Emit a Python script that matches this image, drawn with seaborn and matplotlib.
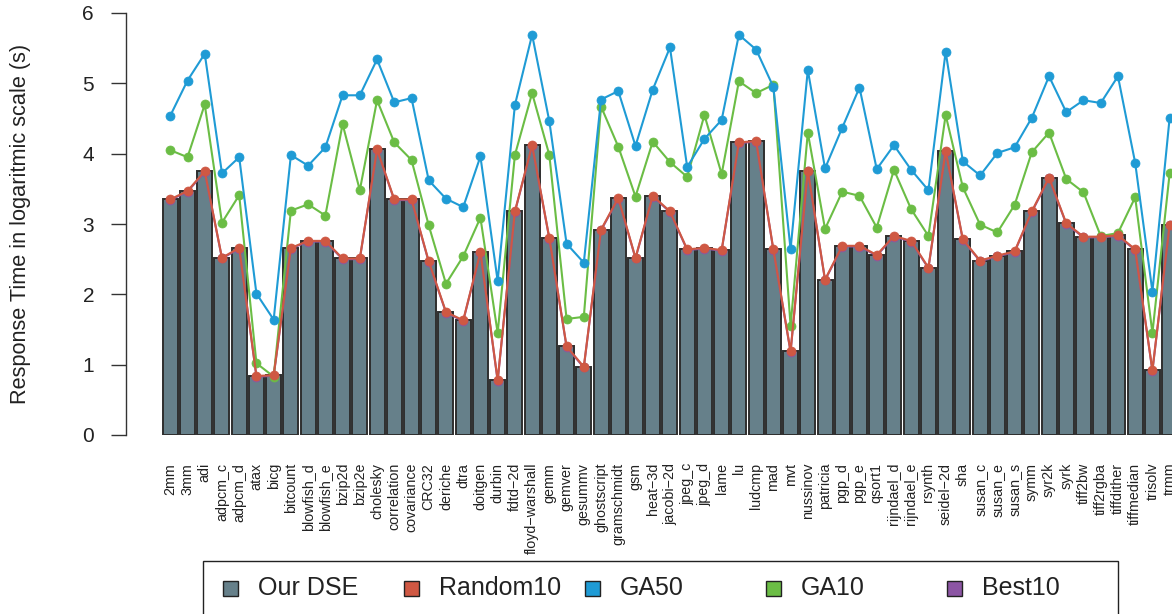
import numpy as np
import pandas as pd
import matplotlib
matplotlib.use("Agg")
import matplotlib.pyplot as plt
import seaborn as sns
from matplotlib.patches import Rectangle

# Benchmarks (x axis)
benchmarks = [
    "2mm", "3mm", "adi", "adpcm_c", "adpcm_d", "atax", "bicg", "bitcount",
    "blowfish_d", "blowfish_e", "bzip2d", "bzip2e", "cholesky", "correlation",
    "covariance", "CRC32", "deriche", "dtra", "doitgen", "durbin", "fdtd\u22122d",
    "floyd\u2212warshall", "gemm", "gemver", "gesummv", "ghostscript",
    "gramschmidt", "gsm", "heat\u22123d", "jacobi\u22122d", "jpeg_c", "jpeg_d",
    "lame", "lu", "ludcmp", "mad", "mvt", "nussinov", "patricia", "pgp_d",
    "pgp_e", "qsort1", "rijndael_d", "rijndael_e", "rsynth", "seidel\u22122d",
    "sha", "susan_c", "susan_e", "susan_s", "symm", "syr2k", "syrk", "tiff2bw",
    "tiff2rgba", "tiffdither", "tiffmedian", "trisolv", "trmm",
]

# Response time, log scale (s)
our_dse = [
    3.35, 3.47, 3.75, 2.52, 2.66, 0.84, 0.85, 2.66, 2.76, 2.76,
    2.51, 2.51, 4.06, 3.35, 3.35, 2.47, 1.75, 1.63, 2.60, 0.78,
    3.18, 4.12, 2.80, 1.26, 0.97, 2.92, 3.37, 2.52, 3.40, 3.18,
    2.64, 2.66, 2.63, 4.16, 4.18, 2.64, 1.19, 3.76, 2.21, 2.69,
    2.69, 2.56, 2.83, 2.76, 2.38, 4.04, 2.78, 2.48, 2.55, 2.61,
    3.18, 3.66, 3.01, 2.82, 2.82, 2.84, 2.64, 0.92, 2.99,
]
random10 = [
    3.35, 3.47, 3.75, 2.52, 2.66, 0.84, 0.85, 2.66, 2.76, 2.76,
    2.51, 2.51, 4.06, 3.35, 3.35, 2.47, 1.75, 1.63, 2.60, 0.78,
    3.18, 4.12, 2.80, 1.26, 0.97, 2.92, 3.37, 2.52, 3.40, 3.18,
    2.64, 2.66, 2.63, 4.16, 4.18, 2.64, 1.19, 3.76, 2.21, 2.69,
    2.69, 2.56, 2.83, 2.76, 2.38, 4.04, 2.78, 2.48, 2.55, 2.61,
    3.18, 3.66, 3.01, 2.82, 2.82, 2.84, 2.64, 0.92, 2.99,
]
ga50 = [
    4.54, 5.04, 5.42, 3.72, 3.95, 2.01, 1.64, 3.98, 3.83, 4.09,
    4.83, 4.83, 5.34, 4.73, 4.79, 3.62, 3.36, 3.24, 3.96, 2.19,
    4.69, 5.69, 4.46, 2.72, 2.45, 4.77, 4.89, 4.11, 4.91, 5.51,
    3.81, 4.21, 4.48, 5.69, 5.48, 4.95, 2.64, 5.19, 3.79, 4.37,
    4.94, 3.78, 4.12, 3.77, 3.48, 5.45, 3.89, 3.69, 4.01, 4.09,
    4.51, 5.10, 4.59, 4.76, 4.72, 5.10, 3.87, 2.04, 4.51,
]
ga10 = [
    4.05, 3.95, 4.70, 3.02, 3.41, 1.02, 0.83, 3.19, 3.28, 3.12,
    4.42, 3.48, 4.76, 4.16, 3.91, 2.98, 2.15, 2.54, 3.09, 1.45,
    3.98, 4.86, 3.98, 1.65, 1.68, 4.67, 4.10, 3.39, 4.17, 3.88,
    3.67, 4.55, 3.71, 5.03, 4.86, 4.98, 1.55, 4.30, 2.93, 3.46,
    3.40, 2.95, 3.77, 3.21, 2.83, 4.55, 3.52, 2.99, 2.88, 3.27,
    4.02, 4.30, 3.64, 3.45, 2.83, 2.87, 3.38, 1.45, 3.72,
]
best10 = [
    3.34, 3.46, 3.74, 2.51, 2.65, 0.83, 0.84, 2.65, 2.75, 2.75,
    2.50, 2.50, 4.05, 3.34, 3.34, 2.46, 1.74, 1.62, 2.59, 0.77,
    3.17, 4.11, 2.79, 1.25, 0.96, 2.91, 3.36, 2.51, 3.39, 3.17,
    2.63, 2.65, 2.62, 4.15, 4.17, 2.63, 1.18, 3.75, 2.20, 2.68,
    2.68, 2.55, 2.82, 2.75, 2.37, 4.03, 2.77, 2.47, 2.54, 2.60,
    3.17, 3.65, 3.00, 2.81, 2.81, 2.83, 2.63, 0.91, 2.98,
]

series_names = ["Our DSE", "Random10", "GA50", "GA10", "Best10"]
colors = {
    "Our DSE": "#66808a",
    "Random10": "#cf5843",
    "GA50": "#1f9bd5",
    "GA10": "#6bbd45",
    "Best10": "#8c55a4",
}

sns.set_style("white")
plt.rcParams["font.family"] = ["Liberation Sans", "DejaVu Sans"]

W, H = 1172, 614
fig = plt.figure(figsize=(W / 100, H / 100), dpi=100)
ax = fig.add_axes([126 / W, 1 - 435 / H, 1 - 126 / W, (435 - 13) / H])

df = pd.DataFrame({"benchmark": benchmarks, "time": our_dse})
sns.barplot(data=df, x="benchmark", y="time", color=colors["Our DSE"],
            saturation=1, width=0.87, edgecolor="#2e2e2e", linewidth=1.4,
            ax=ax, zorder=1)

xpos = np.arange(len(benchmarks))
for name, vals, z in [("Best10", best10, 2), ("GA10", ga10, 3),
                      ("GA50", ga50, 4), ("Random10", random10, 5)]:
    sns.lineplot(x=xpos, y=vals, color=colors[name], marker="o",
                 markersize=6.5, markeredgecolor=colors[name],
                 markeredgewidth=0.5, linewidth=1.5, ax=ax, zorder=z,
                 clip_on=False)

ax.set_xlim(-2.57, (W - 170.3) / 17.23)
ax.set_ylim(0, 6)
ax.set_yticks(range(7))
ax.set_xlabel("")
ax.set_ylabel("Response Time in logaritmic scale (s)", fontsize=15.7,
              color="#222222", va="center")
ax.yaxis.set_label_coords(-105 / (W - 126), 0.5)

for side in ["top", "right", "bottom"]:
    ax.spines[side].set_visible(False)
ax.spines["left"].set_bounds(0, 6)
ax.spines["left"].set_color("#333333")
ax.spines["left"].set_linewidth(1.0)

ax.tick_params(axis="y", direction="out", length=11, width=1.0,
               color="#333333", pad=12, labelsize=15, labelcolor="#222222",
               left=True)
ax.tick_params(axis="x", length=0, pad=20, labelsize=10.3,
               labelcolor="#222222", labelrotation=90)

# Legend box along the bottom
fig.add_artist(Rectangle((203 / W, 1 - 640 / H), (1118 - 203) / W, 79 / H,
                         transform=fig.transFigure, facecolor="none",
                         edgecolor="#222222", linewidth=1.0))
for k, name in enumerate(series_names):
    x0 = 223 + 181 * k
    fig.add_artist(Rectangle((x0 / W, 1 - 596 / H), 15 / W, 15 / H,
                             transform=fig.transFigure,
                             facecolor=colors[name], edgecolor="#222222",
                             linewidth=1.0))
    fig.text((x0 + 35) / W, 1 - 588 / H, name, fontsize=18,
             color="#222222", ha="left", va="center")

fig.savefig("out.png", dpi=100)
